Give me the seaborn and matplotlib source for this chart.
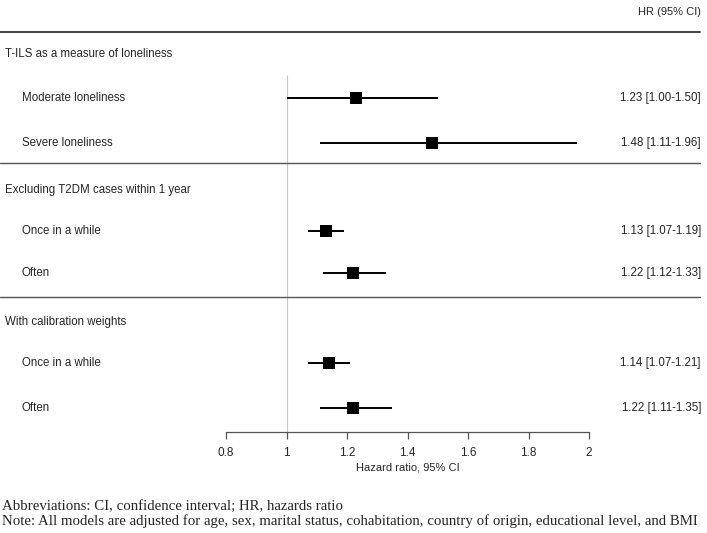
import numpy as np
import pandas as pd
import matplotlib
matplotlib.use("Agg")
import matplotlib.pyplot as plt
import matplotlib.transforms as mtransforms
import seaborn as sns

# Data
groups = ["T-ILS as a measure of loneliness",
          "Excluding T2DM cases within 1 year",
          "With calibration weights"]
labels = ["Moderate loneliness", "Severe loneliness",
          "Once in a while", "Often",
          "Once in a while", "Often"]
hr = [1.23, 1.48, 1.13, 1.22, 1.14, 1.22]
lo = [1.00, 1.11, 1.07, 1.12, 1.07, 1.11]
hi = [1.50, 1.96, 1.19, 1.33, 1.21, 1.35]
hr_text = ["1.23 [1.00-1.50]", "1.48 [1.11-1.96]",
           "1.13 [1.07-1.19]", "1.22 [1.12-1.33]",
           "1.14 [1.07-1.21]", "1.22 [1.11-1.35]"]
x_ticks = [0.8, 1, 1.2, 1.4, 1.6, 1.8, 2]
x_tick_labels = ["0.8", "1", "1.2", "1.4", "1.6", "1.8", "2"]

# layout (vertical pixel positions from the top of the figure)
W, H = 707, 533
row_y = [98, 143, 231, 273, 363, 408]
head_y = [54, 190, 322]
sep_y = [163, 297]
axis_y = 432

df = pd.DataFrame({"label": labels, "hr": hr, "lo": lo, "hi": hi, "y": row_y})

sns.set_style("white")
plt.rcParams["font.family"] = ["Liberation Sans", "DejaVu Sans"]

fig = plt.figure(figsize=(W / 100, H / 100), dpi=100)
ax = fig.add_axes([226 / W, 0, (589 - 226) / W, 1])
ax.set_xlim(0.8, 2)
ax.set_ylim(H, 0)
ax.patch.set_alpha(0)

# reference line at HR = 1
ax.vlines(1, 75, axis_y, color="#c8c8c8", lw=0.8, zorder=1)

# confidence intervals and point estimates
ax.hlines(df["y"], df["lo"], df["hi"], color="black", lw=1.4, zorder=2)
sns.scatterplot(data=df, x="hr", y="y", marker="s", s=70, color="black",
                edgecolor="black", linewidth=0, ax=ax, zorder=3, legend=False)

# x axis drawn as a floating spine
for side in ["top", "right", "left"]:
    ax.spines[side].set_visible(False)
ax.spines["bottom"].set_position(("data", axis_y))
ax.spines["bottom"].set_color("#555555")
ax.spines["bottom"].set_linewidth(0.9)
ax.set_xticks(x_ticks)
ax.set_xticklabels(x_tick_labels, fontsize=8.5)
ax.tick_params(axis="x", direction="out", length=5, width=0.9, color="#555555",
               pad=6, bottom=True)
ax.set_yticks([])
ax.set_xlabel("Hazard ratio, 95% CI", fontsize=8, labelpad=2)
ax.set_ylabel("")

# text columns across the whole figure
tr = mtransforms.blended_transform_factory(fig.transFigure, ax.transData)
fig.text(701 / W, 1 - 12 / H, "HR (95% CI)", ha="right", va="center", fontsize=8)
ax.plot([0, 700 / W], [32, 32], transform=tr, color="#333333", lw=1.3, clip_on=False)
for sy in sep_y:
    ax.plot([0, 700 / W], [sy, sy], transform=tr, color="#555555", lw=1.0, clip_on=False)
for g, gy in zip(groups, head_y):
    ax.text(5 / W, gy, g, transform=tr, ha="left", va="center", fontsize=8.3)
for lab, t, ry in zip(labels, hr_text, row_y):
    ax.text(22 / W, ry, lab, transform=tr, ha="left", va="center", fontsize=8.3)
    ax.text(701 / W, ry, t, transform=tr, ha="right", va="center", fontsize=8.3)

# footnotes
serif = ["Liberation Serif", "DejaVu Serif"]
fig.text(2 / W, 1 - 506 / H, "Abbreviations: CI, confidence interval; HR, hazards ratio",
         ha="left", va="center", fontsize=10.7, family=serif)
fig.text(2 / W, 1 - 521 / H,
         "Note: All models are adjusted for age, sex, marital status, cohabitation, "
         "country of origin, educational level, and BMI",
         ha="left", va="center", fontsize=10.7, family=serif)

fig.savefig("out.png", dpi=100)
